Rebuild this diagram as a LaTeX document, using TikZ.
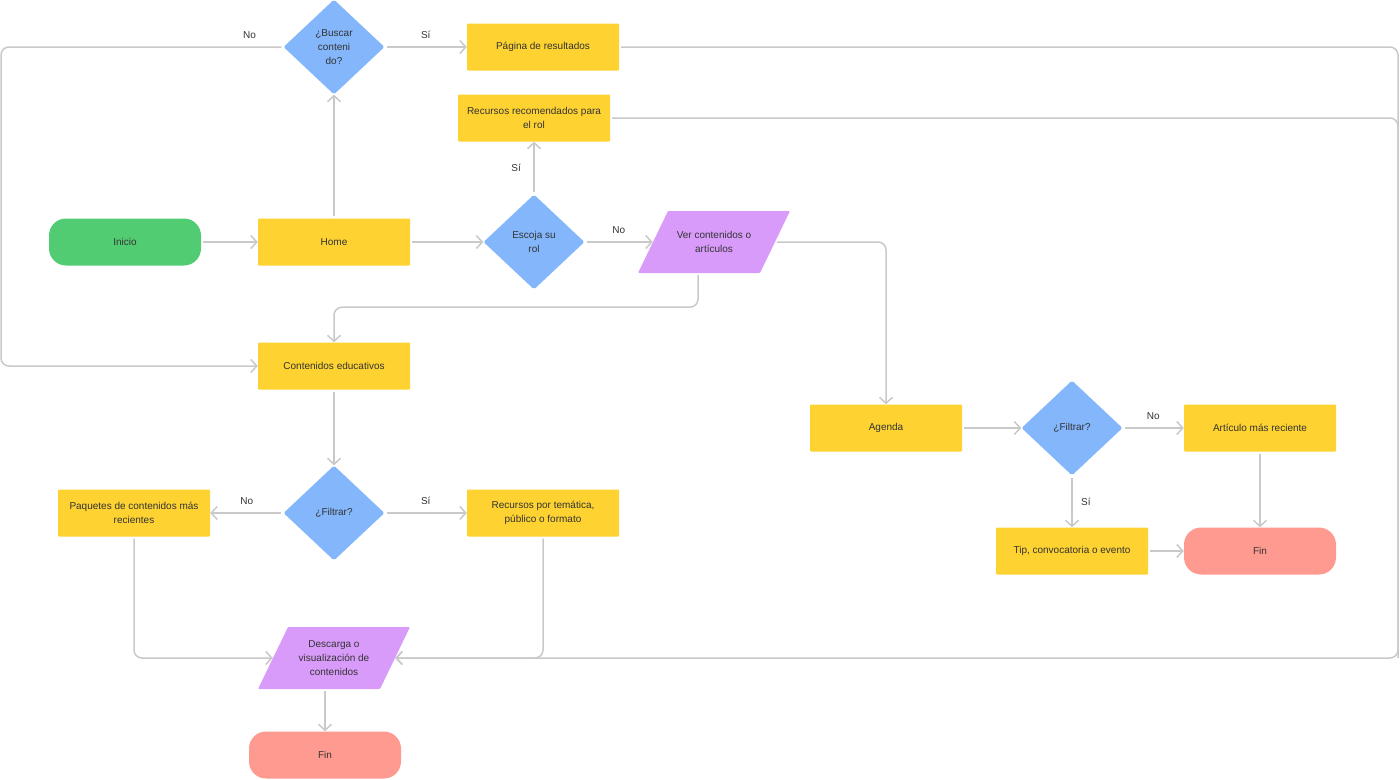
\documentclass[tikz,border=0pt]{standalone}
\usepackage{fontspec}
\setmainfont{Liberation Sans}
\usetikzlibrary{arrows.meta, positioning, shapes.geometric}

\definecolor{amarillo}{HTML}{FDD231}
\definecolor{azul}{HTML}{84B6FB}
\definecolor{verde}{HTML}{51CC73}
\definecolor{morado}{HTML}{D99BFA}
\definecolor{rosa}{HTML}{FF9A90}
\definecolor{gris}{HTML}{C9C9C9}
\definecolor{texto}{HTML}{333333}

\tikzset{
    base/.style={text=texto, font=\fontsize{10}{14}\selectfont, align=center, inner sep=0pt},
    proceso/.style={base, rectangle, fill=amarillo, rounded corners=1pt, minimum width=152pt, minimum height=47pt},
    terminal/.style={base, rectangle, rounded corners=17pt, minimum width=152pt, minimum height=47pt},
    decision/.style={base, diamond, fill=azul, rounded corners=2pt, minimum width=101pt, minimum height=95pt},
    % paralelogramo de datos, inclinado 30pt
    datos/.style={base, rectangle, minimum width=152pt, minimum height=62pt,
        path picture={\fill[morado, rounded corners=1pt]
            ([xshift=30pt]path picture bounding box.north west) -- (path picture bounding box.north east)
            -- ([xshift=-30pt]path picture bounding box.south east) -- (path picture bounding box.south west) -- cycle;}},
    flecha/.style={draw=gris, line width=1.5pt, rounded corners=8pt, shorten <=2pt,
        -{Straight Barb[length=6pt, width=13pt]}},
    etiqueta/.style={text=texto, font=\fontsize{10}{12}\selectfont, rounded corners=0pt}
}

\begin{document}
\begin{tikzpicture}[x=1pt, y=-1pt]
    \useasboundingbox (0,0) rectangle (1400,779);

    % columna izquierda
    \node[terminal, fill=verde] (inicio) at (125,242) {Inicio};
    \node[proceso] (home) at (334,242) {Home};
    \node[decision] (buscar) at (334,47) {¿Buscar\\conteni\\do?};
    \node[proceso] (resultados) at (543,47) {Página de resultados};
    \node[decision] (rol) at (534,242) {Escoja su\\rol};
    \node[proceso] (recomendados) at (534,118) {Recursos recomendados para\\el rol};
    \node[datos] (ver) at (714,242) {Ver contenidos o\\artículos};
    \node[proceso] (educativos) at (334,366) {Contenidos educativos};
    \node[decision] (filtrar) at (334,513) {¿Filtrar?};
    \node[proceso] (paquetes) at (134,513) {Paquetes de contenidos más\\recientes};
    \node[proceso] (tematica) at (543,513) {Recursos por temática,\\público o formato};
    \node[datos] (descarga) at (334,658) {Descarga o\\visualización de\\contenidos};
    \node[terminal, fill=rosa] (fin) at (325,755) {Fin};

    % rama de agenda
    \node[proceso] (agenda) at (886,428) {Agenda};
    \node[decision] (filtrarb) at (1072,428) {¿Filtrar?};
    \node[proceso] (articulo) at (1260,428) {Artículo más reciente};
    \node[proceso] (tip) at (1072,551) {Tip, convocatoria o evento};
    \node[terminal, fill=rosa] (finb) at (1260,551) {Fin};

    \coordinate (izq) at (1,366);
    \coordinate (der) at (1398,658);

    \draw[flecha] (inicio) -- (home);
    \draw[flecha] (home) -- (buscar);
    \draw[flecha] (buscar) -- node[etiqueta, above=4pt] (siA) {Sí} (resultados);
    \draw[flecha] (buscar.west) -- node[etiqueta, above=4pt, pos=0.12] (noA) {No}
        (buscar.west -| izq) |- (educativos.west);
    \draw[flecha] (home) -- (rol);
    \draw[flecha] (rol) -- node[etiqueta, left=9pt] (siB) {Sí} (recomendados);
    \draw[flecha] (rol) -- node[etiqueta, above=4pt] (noB) {No} ([xshift=15pt]ver.west);
    \draw[flecha] ([xshift=-16pt]ver.south) -- ++(0,34) -| (educativos);
    \draw[flecha] ([xshift=-15pt]ver.east) -| (agenda);
    \draw[flecha] (resultados) -| (der) -- ([xshift=-15pt]descarga.east);
    \draw[flecha, -] (recomendados) -| (der);

    \draw[flecha] (educativos) -- (filtrar);
    \draw[flecha] (filtrar) -- node[etiqueta, above=4pt] (noC) {No} (paquetes);
    \draw[flecha] (filtrar) -- node[etiqueta, above=4pt] (siC) {Sí} (tematica);
    \draw[flecha] (paquetes) |- ([xshift=15pt]descarga.west);
    \draw[flecha] (tematica) |- ([xshift=-15pt]descarga.east);
    \draw[flecha] (fin |- descarga.south) -- (fin);

    \draw[flecha] (agenda) -- (filtrarb);
    \draw[flecha] (filtrarb) -- node[etiqueta, above=4pt] (noD) {No} (articulo);
    \draw[flecha] (filtrarb) -- node[etiqueta, right=5pt] (siD) {Sí} (tip);
    \draw[flecha] (articulo) -- (finb);
    \draw[flecha] (tip) -- (finb);
\end{tikzpicture}
\end{document}
